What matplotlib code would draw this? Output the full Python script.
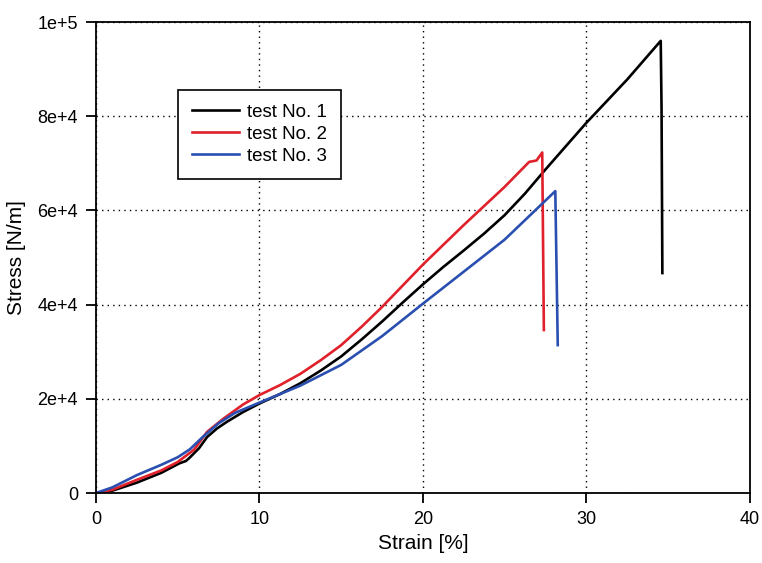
import matplotlib.pyplot as plt
from matplotlib.ticker import FuncFormatter

plt.rcParams['font.family'] = ['Liberation Sans', 'DejaVu Sans']

# test No. 1 (black)
strain_1 = [0, 1, 2.5, 4, 5.1, 5.5, 5.7, 6.3, 6.8, 7.4, 8, 9, 10, 11.25, 12.5, 13.75,
            15, 16.25, 17.5, 18.75, 20, 21.25, 22.5, 23.75, 25, 26.25, 27.5, 30,
            32.5, 34.55, 34.6, 34.65]
stress_1 = [0, 500, 2200, 4300, 6300, 6800, 7400, 9500, 11900, 13700, 15100, 17200,
            19000, 21000, 23300, 26000, 29000, 32600, 36400, 40400, 44300, 48000,
            51500, 55100, 59000, 63600, 68700, 78600, 87800, 96000, 81700, 46700]

# test No. 2 (red)
strain_2 = [0, 1, 2.5, 4, 5, 6, 6.8, 7.8, 9, 10, 11.25, 12.5, 13.75, 15, 16.25, 17.5,
            18.75, 20, 22.5, 25, 26.5, 26.95, 27.3, 27.4]
stress_2 = [0, 700, 2800, 4800, 6600, 9200, 13000, 15800, 18800, 20800, 22900, 25300,
            28200, 31400, 35300, 39500, 44000, 48500, 56900, 65000, 70300, 70600,
            72300, 34600]

# test No. 3 (blue)
strain_3 = [0, 1, 2.5, 4, 5, 5.75, 6.5, 7.5, 8.5, 10, 12.5, 15, 17.5, 20, 22.5,
            25, 27.35, 28.1, 28.25]
stress_3 = [0, 1200, 3800, 6000, 7600, 9300, 11800, 14800, 17000, 19200, 22800,
            27200, 33300, 40200, 47000, 53800, 61600, 64100, 31400]

labels = ['test No. 1', 'test No. 2', 'test No. 3']
colors = ['#000000', '#e0202a', '#2a4fb0']

fig = plt.figure(figsize=(7.62, 5.63), dpi=100)
ax = fig.add_axes([0.126, 0.1243, 0.858, 0.8366])

for x, y, lab, c in zip([strain_1, strain_2, strain_3],
                        [stress_1, stress_2, stress_3], labels, colors):
    ax.plot(x, y, color=c, lw=1.9, label=lab)

ax.set_xlim(0, 40)
ax.set_ylim(0, 100000)
ax.set_xticks([0, 10, 20, 30, 40])
ax.set_yticks([0, 20000, 40000, 60000, 80000, 100000])


def sci(v, pos):
    if v == 0:
        return '0'
    m, e = f'{v:.0e}'.split('e')
    return f'{m}e+{int(e)}'


ax.yaxis.set_major_formatter(FuncFormatter(sci))
ax.grid(True, color='black', linestyle=(0, (1, 3)), linewidth=1)
ax.tick_params(direction='out', length=7, width=1.3, labelsize=13, pad=6)
for s in ax.spines.values():
    s.set_linewidth(1.3)

ax.set_xlabel('Strain [%]', fontsize=15)
ax.set_ylabel('Stress [N/m]', fontsize=15, labelpad=8)

leg = ax.legend(loc='upper left', bbox_to_anchor=(0.125, 0.856), fontsize=13.5,
                frameon=True, fancybox=False, edgecolor='black', borderaxespad=0,
                handlelength=2.5, handletextpad=0.45, borderpad=0.75,
                labelspacing=0.25)
leg.get_frame().set_linewidth(1.2)
leg.get_frame().set_alpha(1)

fig.savefig('out.png', dpi=100)
